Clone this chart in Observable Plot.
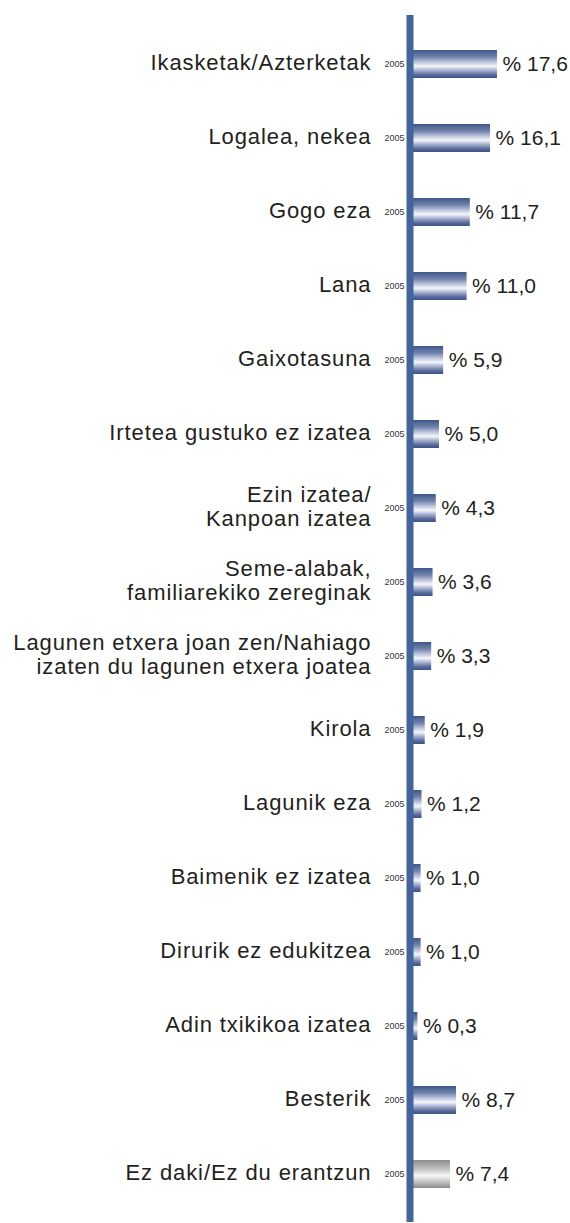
<!DOCTYPE html>
<html>
<head>
<meta charset="utf-8">
<script src="https://cdn.jsdelivr.net/npm/d3@7"></script>
<script src="https://cdn.jsdelivr.net/npm/@observablehq/plot@0.6"></script>
<style>
  html, body { margin: 0; padding: 0; background: #fff; }
  g.catlabel text { letter-spacing: 0.9px; }
</style>
</head>
<body>
<div id="chart"></div>
<script>
const categories = [
  "Ikasketak/Azterketak",
  "Logalea, nekea",
  "Gogo eza",
  "Lana",
  "Gaixotasuna",
  "Irtetea gustuko ez izatea",
  "Ezin izatea/\nKanpoan izatea",
  "Seme-alabak,\nfamiliarekiko zereginak",
  "Lagunen etxera joan zen/Nahiago\nizaten du lagunen etxera joatea",
  "Kirola",
  "Lagunik eza",
  "Baimenik ez izatea",
  "Dirurik ez edukitzea",
  "Adin txikikoa izatea",
  "Besterik",
  "Ez daki/Ez du erantzun"
];
const values = [17.6, 16.1, 11.7, 11.0, 5.9, 5.0, 4.3, 3.6, 3.3, 1.9, 1.2, 1.0, 1.0, 0.3, 8.7, 7.4];
const yearLabel = "2005";
const noAnswer = "Ez daki/Ez du erantzun";

const data = categories.map((c, i) => ({
  cat: c,
  value: values[i],
  label: "% " + values[i].toFixed(1).replace(".", ",")
}));

const fontFamily = "'Liberation Sans', Arial, Helvetica, sans-serif";

function defs() {
  const ns = "http://www.w3.org/2000/svg";
  const d = document.createElementNS(ns, "defs");
  const mk = (id, stops) => {
    const g = document.createElementNS(ns, "linearGradient");
    g.setAttribute("id", id);
    g.setAttribute("x1", "0"); g.setAttribute("y1", "0");
    g.setAttribute("x2", "0"); g.setAttribute("y2", "1");
    for (const [o, c] of stops) {
      const s = document.createElementNS(ns, "stop");
      s.setAttribute("offset", o);
      s.setAttribute("stop-color", c);
      g.appendChild(s);
    }
    d.appendChild(g);
  };
  mk("gBlue", [["0%", "#3f5789"], ["25%", "#7282ad"], ["45%", "#c4cbe0"], ["58%", "#f6f7fb"], ["72%", "#aab4d2"], ["88%", "#5b6c9c"], ["100%", "#3b5386"]]);
  mk("gGray", [["0%", "#8e8e8e"], ["30%", "#bdbdbd"], ["56%", "#f7f7f7"], ["75%", "#c8c8c8"], ["100%", "#8c8c8c"]]);
  return d;
}

const chart = Plot.plot({
  width: 570,
  height: 1223,
  marginLeft: 0,
  marginRight: 0,
  marginTop: 15,
  marginBottom: 1,
  style: { fontFamily, background: "#fff", overflow: "visible" },
  x: { domain: [0, 33.48], range: [416, 570], axis: null },
  y: { type: "band", domain: categories, range: [23.83, 1213.17], paddingInner: 0.623, paddingOuter: 0.3115, axis: null },
  marks: [
    defs,
    Plot.barX(data.filter(d => d.cat !== noAnswer), { x: "value", y: "cat", fill: "url(#gBlue)", insetLeft: -6 }),
    Plot.barX(data.filter(d => d.cat === noAnswer), { x: "value", y: "cat", fill: "url(#gGray)", insetLeft: -6 }),
    Plot.ruleX([0], { stroke: "#44649c", strokeWidth: 7, dx: -6.5 }),
    Plot.text(data, { x: 0, y: "cat", text: d => d.cat, textAnchor: "end", dx: -45, dy: -2, fontSize: 22, lineHeight: 1.1, fill: "#231f20", className: "catlabel" }),
    Plot.text(data, { x: 0, y: "cat", text: () => yearLabel, textAnchor: "end", dx: -12, fontSize: 9, fill: "#333" }),
    Plot.text(data, { x: "value", y: "cat", text: "label", textAnchor: "start", dx: 5, fontSize: 21, fill: "#231f20" })
  ]
});
document.getElementById("chart").appendChild(chart);
</script>
</body>
</html>
